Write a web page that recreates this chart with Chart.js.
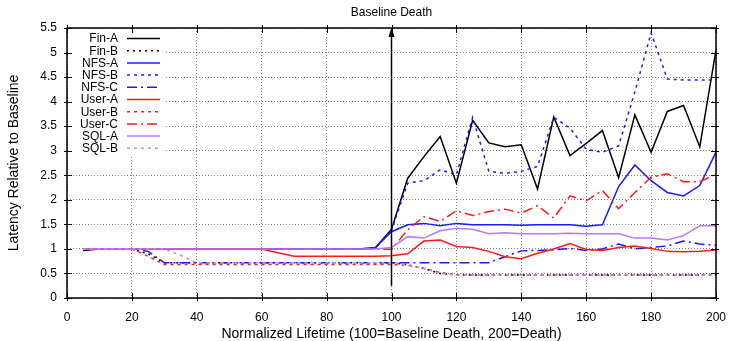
<!DOCTYPE html>
<html>
<head>
<meta charset="utf-8">
<script src="https://cdn.jsdelivr.net/npm/chart.js@4.4.1/dist/chart.umd.min.js"></script>
<style>
  html, body { margin: 0; padding: 0; background: #fff; }
</style>
</head>
<body>
<canvas id="lat" width="729" height="341"></canvas>
<script>
// normalized lifetime of each sample
var lifetime = [5, 10, 15, 20, 25, 30, 35, 40, 45, 50, 55, 60, 65, 70, 75, 80, 85, 90, 95, 100,
  105, 110, 115, 120, 125, 130, 135, 140, 145, 150, 155, 160, 165, 170, 175, 180, 185, 190, 195, 200];

var finA = [0.97, 1, 1, 1, 1, 1, 1, 1, 1, 1, 1, 1, 1, 1, 1, 1, 1, 1, 1.02, 1.4,
  2.44, 2.88, 3.29, 2.34, 3.62, 3.16, 3.08, 3.12, 2.22, 3.69, 2.9, 3.15, 3.41, 2.45, 3.73, 2.97, 3.8, 3.92, 3.08, 5.05];
var finB = [1, 1, 1, 1, 0.9, 0.72, 0.72, 0.72, 0.72, 0.72, 0.72, 0.72, 0.72, 0.72, 0.72, 0.72, 0.72, 0.72, 0.72, 0.72,
  0.68, 0.6, 0.5, 0.47, 0.47, 0.47, 0.47, 0.47, 0.47, 0.47, 0.47, 0.47, 0.47, 0.47, 0.47, 0.47, 0.47, 0.47, 0.47, 0.47];
var nfsA = [1, 1, 1, 1, 1, 1, 1, 1, 1, 1, 1, 1, 1, 1, 1, 1, 1, 1, 1.03, 1.35,
  1.49, 1.52, 1.47, 1.52, 1.49, 1.49, 1.49, 1.48, 1.49, 1.49, 1.49, 1.46, 1.49, 2.27, 2.71, 2.39, 2.15, 2.08, 2.29, 2.97];
var nfsB = [1, 1, 1, 1, 1, 1, 1, 1, 1, 1, 1, 1, 1, 1, 1, 1, 1, 1, 1.02, 1.38,
  2.34, 2.39, 2.61, 2.51, 3.68, 2.58, 2.54, 2.58, 2.68, 3.68, 3.46, 3.03, 2.97, 3.1, 4.2, 5.4, 4.46, 4.44, 4.44, 4.44];
var nfsC = [1, 1, 1, 1, 0.95, 0.72, 0.72, 0.72, 0.72, 0.72, 0.72, 0.72, 0.72, 0.72, 0.72, 0.72, 0.72, 0.72, 0.72, 0.72,
  0.72, 0.72, 0.72, 0.72, 0.72, 0.72, 0.84, 0.96, 0.97, 0.98, 1.01, 0.97, 1.0, 1.1, 1.0, 1.03, 1.06, 1.16, 1.1, 1.07];
var userA = [1, 1, 1, 1, 1, 1, 1, 1, 1, 1, 1, 1, 0.92, 0.85, 0.85, 0.85, 0.85, 0.85, 0.85, 0.86,
  0.9, 1.16, 1.18, 1.05, 1.03, 0.95, 0.84, 0.8, 0.91, 1.0, 1.11, 0.99, 0.97, 1.03, 1.06, 1.01, 0.95, 0.94, 0.95, 0.98];
var userB = [1, 1, 1, 1, 0.85, 0.68, 0.68, 0.68, 0.68, 0.68, 0.68, 0.68, 0.68, 0.68, 0.68, 0.68, 0.68, 0.68, 0.68, 0.68,
  0.67, 0.6, 0.52, 0.47, 0.47, 0.47, 0.47, 0.47, 0.47, 0.47, 0.47, 0.47, 0.47, 0.47, 0.47, 0.47, 0.47, 0.47, 0.47, 0.48];
var userC = [1, 1, 1, 1, 1, 1, 1, 1, 1, 1, 1, 1, 1, 1, 1, 1, 1, 1, 1, 0.99,
  1.39, 1.66, 1.56, 1.78, 1.68, 1.76, 1.81, 1.73, 1.88, 1.63, 2.08, 1.98, 2.19, 1.82, 2.15, 2.46, 2.53, 2.37, 2.37, 2.52];
var sqlA = [1, 1, 1, 1, 1, 1, 1, 1, 1, 1, 1, 1, 1, 1, 1, 1, 1, 1, 1, 1.03,
  1.25, 1.22, 1.37, 1.42, 1.4, 1.31, 1.33, 1.31, 1.31, 1.31, 1.32, 1.31, 1.31, 1.31, 1.22, 1.22, 1.18, 1.27, 1.47, 1.47];
var sqlB = [1, 1, 1, 1, 1, 1, 0.87, 0.72, 0.72, 0.72, 0.72, 0.72, 0.72, 0.72, 0.72, 0.72, 0.72, 0.72, 0.72, 0.72,
  0.68, 0.6, 0.5, 0.47, 0.47, 0.47, 0.47, 0.47, 0.47, 0.47, 0.47, 0.47, 0.47, 0.47, 0.47, 0.47, 0.47, 0.47, 0.47, 0.47];

var xTicks = [0, 20, 40, 60, 80, 100, 120, 140, 160, 180, 200];
var yTicks = [0, 0.5, 1, 1.5, 2, 2.5, 3, 3.5, 4, 4.5, 5, 5.5];
var baselineDeath = 100;

var FONT = '"Liberation Sans", Arial, Helvetica, sans-serif';

function pts(ys) {
  return ys.map(function(y, i) { return { x: lifetime[i], y: y }; });
}

var series = [
  { label: 'Fin-A', data: finA, color: '#000000', dash: [] },
  { label: 'Fin-B', data: finB, color: '#000000', dash: [2, 4] },
  { label: 'NFS-A', data: nfsA, color: '#1a1aff', dash: [] },
  { label: 'NFS-B', data: nfsB, color: '#1a1aff', dash: [3, 4] },
  { label: 'NFS-C', data: nfsC, color: '#1a1aff', dash: [10, 4, 2, 4] },
  { label: 'User-A', data: userA, color: '#ff1a1a', dash: [] },
  { label: 'User-B', data: userB, color: '#ff1a1a', dash: [3, 4] },
  { label: 'User-C', data: userC, color: '#ff1a1a', dash: [10, 4, 2, 4] },
  { label: 'SQL-A', data: sqlA, color: '#b47aff', dash: [] },
  { label: 'SQL-B', data: sqlB, color: '#c08cff', dash: [3, 4] }
];

var datasets = series.map(function(s, i) {
  return {
    label: s.label,
    data: pts(s.data),
    borderColor: s.color,
    backgroundColor: s.color,
    borderWidth: 1.5,
    borderDash: s.dash,
    pointRadius: 0,
    tension: 0,
    fill: false,
    order: series.length - i   // later series drawn on top, like gnuplot
  };
});

// gnuplot style key: right aligned names, line sample on the right, opaque box
var keyPlugin = {
  id: 'key',
  afterDatasetsDraw: function(chart) {
    var ctx = chart.ctx, a = chart.chartArea;
    ctx.save();
    ctx.fillStyle = '#fff';
    ctx.fillRect(a.left + 1, a.top + 1, 97, 127);
    ctx.font = '12px ' + FONT;
    ctx.textAlign = 'right';
    ctx.textBaseline = 'middle';
    chart.data.datasets.forEach(function(ds, i) {
      var y = a.top + 10.5 + i * 12.2;
      ctx.fillStyle = '#000';
      ctx.fillText(ds.label, a.left + 51, y + 0.5);
      ctx.strokeStyle = ds.borderColor;
      ctx.lineWidth = ds.borderWidth;
      ctx.setLineDash(ds.borderDash);
      ctx.beginPath();
      ctx.moveTo(a.left + 60, y);
      ctx.lineTo(a.left + 93, y);
      ctx.stroke();
    });
    ctx.restore();
  }
};

// border box, mirrored tick marks, and the baseline death arrow
var framePlugin = {
  id: 'frame',
  afterDraw: function(chart) {
    var ctx = chart.ctx, a = chart.chartArea;
    var xs = chart.scales.x, ys = chart.scales.y;
    ctx.save();
    ctx.strokeStyle = '#000';
    ctx.lineWidth = 1;
    ctx.beginPath();
    xTicks.forEach(function(v) {
      var px = Math.round(xs.getPixelForValue(v)) + 0.5;
      ctx.moveTo(px, a.bottom + 3); ctx.lineTo(px, a.bottom - 5);
      ctx.moveTo(px, a.top - 3); ctx.lineTo(px, a.top + 5);
    });
    yTicks.forEach(function(v) {
      var py = Math.round(ys.getPixelForValue(v)) + 0.5;
      ctx.moveTo(a.left - 3, py); ctx.lineTo(a.left + 5, py);
      ctx.moveTo(a.right + 3, py); ctx.lineTo(a.right - 5, py);
    });
    ctx.stroke();

    ctx.lineWidth = 1.5;
    ctx.strokeRect(a.left, a.top, a.right - a.left, a.bottom - a.top);

    // arrow
    var ax = xs.getPixelForValue(baselineDeath);
    var y0 = ys.getPixelForValue(0.25);
    ctx.lineWidth = 1.5;
    ctx.beginPath();
    ctx.moveTo(ax, y0);
    ctx.lineTo(ax, a.top + 6);
    ctx.stroke();
    ctx.fillStyle = '#000';
    ctx.beginPath();
    ctx.moveTo(ax, a.top - 1);
    ctx.lineTo(ax - 3, a.top + 9);
    ctx.lineTo(ax + 3, a.top + 9);
    ctx.closePath();
    ctx.fill();

    ctx.font = '12px ' + FONT;
    ctx.textAlign = 'center';
    ctx.textBaseline = 'middle';
    ctx.fillText('Baseline Death', ax, 13);
    ctx.restore();
  }
};

var gridDash = [1, 2];

new Chart(document.getElementById('lat'), {
  type: 'line',
  data: { datasets: datasets },
  options: {
    responsive: false,
    animation: false,
    devicePixelRatio: 1,
    layout: { padding: { top: 28, right: 13, left: 0, bottom: 0 } },
    plugins: { legend: { display: false }, tooltip: { enabled: false } },
    scales: {
      x: {
        type: 'linear',
        min: 0,
        max: 200,
        afterFit: function(s) { s.height = 43; s.paddingLeft = 0; s.paddingRight = 0; },
        afterBuildTicks: function(s) { s.ticks = xTicks.map(function(v) { return { value: v }; }); },
        ticks: { color: '#000', font: { family: FONT, size: 12 }, padding: 12, maxRotation: 0 },
        grid: { color: 'rgba(0,0,0,0.5)', lineWidth: 1, drawTicks: false },
        border: { display: false, dash: gridDash },
        title: {
          display: true,
          text: 'Normalized Lifetime (100=Baseline Death, 200=Death)',
          color: '#000',
          font: { family: FONT, size: 14, lineHeight: 1 },
          padding: { top: 0, bottom: 0 }
        }
      },
      y: {
        type: 'linear',
        min: 0,
        max: 5.5,
        afterFit: function(s) { s.width = 67; s.paddingTop = 0; s.paddingBottom = 0; },
        afterBuildTicks: function(s) { s.ticks = yTicks.map(function(v) { return { value: v }; }); },
        ticks: {
          color: '#000',
          font: { family: FONT, size: 12 },
          padding: 10,
          callback: function(v) { return String(v); }
        },
        grid: { color: 'rgba(0,0,0,0.5)', lineWidth: 1, drawTicks: false },
        border: { display: false, dash: gridDash },
        title: {
          display: true,
          text: 'Latency Relative to Baseline',
          color: '#000',
          font: { family: FONT, size: 14 },
          padding: { top: 6, bottom: 0 }
        }
      }
    }
  },
  plugins: [keyPlugin, framePlugin]
});
</script>
</body>
</html>
